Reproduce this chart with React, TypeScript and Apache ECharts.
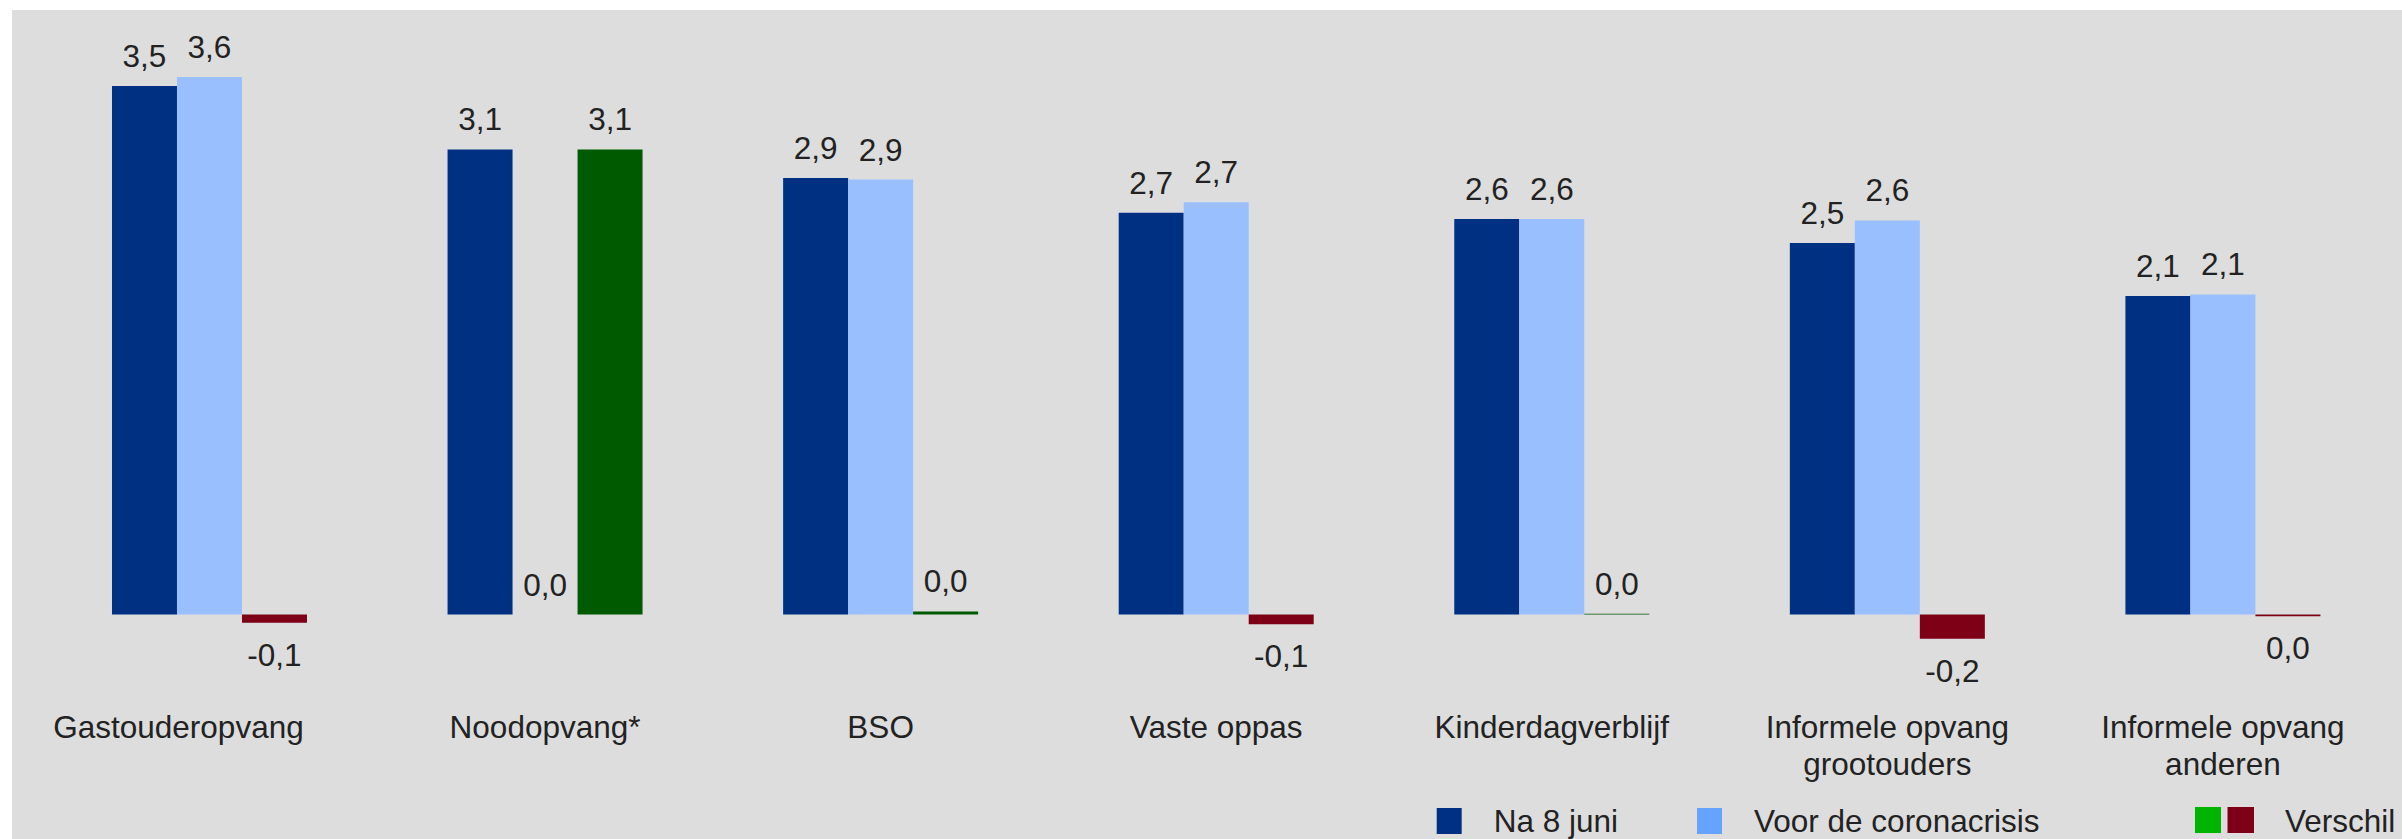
import React, { useEffect, useRef } from "react";
import * as echarts from "echarts";

const categories = [
  "Gastouderopvang",
  "Noodopvang*",
  "BSO",
  "Vaste oppas",
  "Kinderdagverblijf",
  "Informele opvang\ngrootouders",
  "Informele opvang\nanderen",
];
const na8Juni = [3.5, 3.08, 2.89, 2.66, 2.62, 2.46, 2.11];
const voorCorona = [3.56, 0, 2.88, 2.73, 2.62, 2.61, 2.12];
const verschil = [-0.055, 3.08, 0.02, -0.065, 0.005, -0.16, -0.012];
const seriesNames = ["Na 8 juni", "Voor de coronacrisis", "Verschil"];

const FONT = "'Liberation Sans', Arial, sans-serif";
const FS = 31.5;
const TXT = "#222222";

const fmt = (v: number) => {
  const r = Math.round(v * 10) / 10;
  return (r === 0 ? 0 : r).toFixed(1).replace(".", ",");
};

const labelFor = (v: number) =>
  v < 0
    ? { show: true, position: "bottom", distance: 16 }
    : { show: true, position: "top", distance: 14 };

export default function App() {
  const ref = useRef<HTMLDivElement>(null);
  useEffect(() => {
    if (!ref.current) return;
    const chart = echarts.init(ref.current, undefined, { renderer: "svg" });
    const commonLabel = {
      color: TXT,
      fontSize: FS,
      fontFamily: FONT,
      formatter: (p: any) => fmt(p.value),
    };
    chart.setOption({
      animation: false,
      backgroundColor: "#dddddd",
      textStyle: { fontFamily: FONT },
      grid: {
        left: 29.7,
        top: 0.5,
        width: 2349,
        height: 679.5,
        containLabel: false,
        outerBoundsMode: "none",
      },
      xAxis: {
        type: "category",
        data: categories.map((c, i) =>
          i === 0 ? { value: c, textStyle: { padding: [0, 62, 0, 0] } } : c
        ),
        axisLine: { show: false, onZero: false },
        axisTick: { show: false },
        axisLabel: {
          margin: 18.5,
          color: TXT,
          fontSize: FS,
          fontFamily: FONT,
          lineHeight: 37,
          interval: 0,
        },
      },
      yAxis: {
        type: "value",
        min: -0.5,
        max: 4,
        show: false,
        splitLine: { show: false },
      },
      legend: {
        left: 1424.7,
        top: 795,
        padding: 0,
        itemWidth: 25,
        itemHeight: 26,
        itemGap: 79,
        icon: "rect",
        data: [
          { name: seriesNames[0], itemStyle: { color: "#003082" } },
          { name: seriesNames[1], itemStyle: { color: "#66a3ff" } },
        ],
        textStyle: {
          fontSize: FS,
          color: TXT,
          fontFamily: FONT,
          padding: [0, 0, 0, 27],
        },
      },
      graphic: [
        {
          type: "rect",
          shape: { x: 2183, y: 797, width: 26, height: 26 },
          style: { fill: "#00b400" },
        },
        {
          type: "rect",
          shape: { x: 2215.5, y: 797, width: 26.5, height: 26 },
          style: { fill: "#7d0016" },
        },
        {
          type: "text",
          x: 2273,
          y: 811,
          style: {
            text: seriesNames[2],
            fontSize: FS,
            fontFamily: FONT,
            fill: TXT,
            verticalAlign: "middle",
          },
        },
      ],
      series: [
        {
          name: seriesNames[0],
          type: "bar",
          barWidth: 65,
          barGap: "0%",
          itemStyle: { color: "#003082" },
          label: commonLabel,
          data: na8Juni.map((v) => ({ value: v, label: labelFor(v) })),
        },
        {
          name: seriesNames[1],
          type: "bar",
          barWidth: 65,
          barGap: "0%",
          itemStyle: { color: "#99bfff" },
          label: commonLabel,
          data: voorCorona.map((v) => ({ value: v, label: labelFor(v) })),
        },
        {
          name: seriesNames[2],
          type: "bar",
          barWidth: 65,
          barGap: "0%",
          label: commonLabel,
          data: verschil.map((v) => ({
            value: v,
            itemStyle: { color: v < 0 ? "#7d0016" : "#005a00" },
            label: labelFor(v),
          })),
        },
      ],
    });
    return () => chart.dispose();
  }, []);
  return (
    <div
      ref={ref}
      style={{ position: "fixed", left: 12, top: 10, width: 2390, height: 829 }}
    />
  );
}
